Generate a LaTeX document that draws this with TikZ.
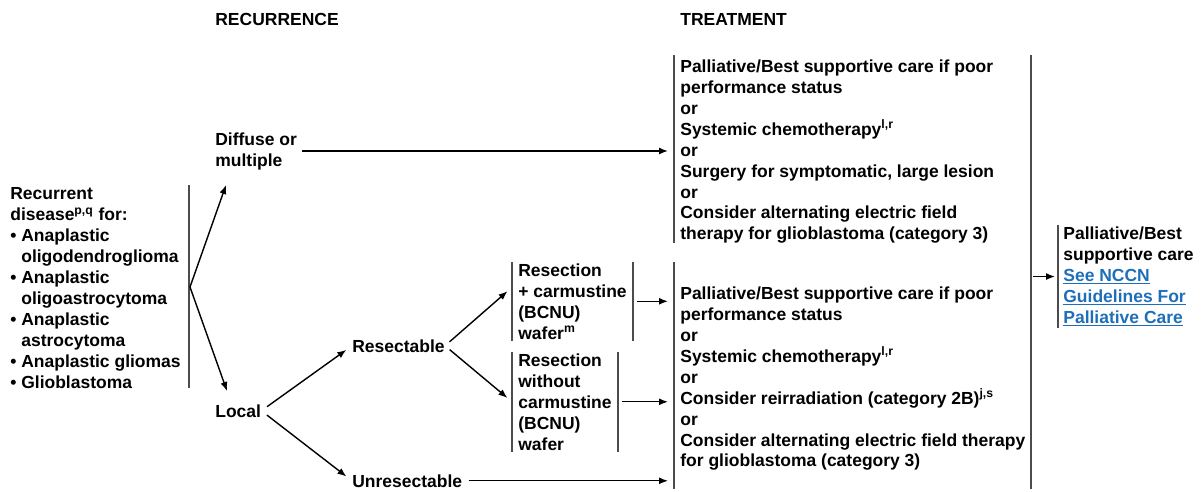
\documentclass[tikz,border=0pt]{standalone}
\usepackage{fontspec}
\setmainfont{Liberation Sans}
\usepackage[table]{xcolor}
\usepackage{tikz}
\usetikzlibrary{arrows.meta}
\definecolor{nccnlink}{RGB}{30,110,185}

\begin{document}
\begin{tikzpicture}[x=0.02cm, y=-0.02cm,
		txt/.style={black, anchor=north west, inner sep=0pt, align=left, font=\bfseries\fontsize{9.95}{11.95}\selectfont},
		boxed/.style={txt, inner xsep=0.12cm, inner ysep=0.02cm},
		bar/.style={draw=black!70, line width=1.2pt},
		arr/.style={draw=black, line width=0.8pt, -{Latex[length=0.18cm, width=0.14cm]}}]
		\useasboundingbox (0,0) rectangle (1202,491);
		\node[txt] (recurrence) at (215,13) {RECURRENCE};
		\node[txt] (treatment) at (680,13) {TREATMENT};
		\node[txt] (disease) at (10,187) {Recurrent\\disease\textsuperscript{p,q} for:\\\textbullet\ Anaplastic\\\hphantom{\textbullet\ }oligodendroglioma\\\textbullet\ Anaplastic\\\hphantom{\textbullet\ }oligoastrocytoma\\\textbullet\ Anaplastic\\\hphantom{\textbullet\ }astrocytoma\\\textbullet\ Anaplastic gliomas\\\textbullet\ Glioblastoma};
		\node[txt] (diffuse) at (215,132) {Diffuse or\\multiple};
		\node[txt] (local) at (215,404) {Local};
		\node[txt] (resectable) at (352,339) {Resectable};
		\node[txt] (unresectable) at (352,474) {Unresectable};
		\node[boxed] (resA) at (512,262) {Resection\\+ carmustine\\(BCNU)\\wafer\textsuperscript{m}};
		\node[boxed] (resB) at (512,352) {Resection\\without\\carmustine\\(BCNU)\\wafer};
		\node[txt] (careA) at (680,59) {Palliative/Best supportive care if poor\\performance status\\or\\Systemic chemotherapy\textsuperscript{l,r}\\or\\Surgery for symptomatic, large lesion\\or\\Consider alternating electric field\\therapy for glioblastoma (category 3)};
		\node[txt] (careB) at (680,286) {Palliative/Best supportive care if poor\\performance status\\or\\Systemic chemotherapy\textsuperscript{l,r}\\or\\Consider reirradiation (category 2B)\textsuperscript{j,s}\\or\\Consider alternating electric field therapy\\for glioblastoma (category 3)};
		\node[boxed, inner xsep=0.1cm] (palliative) at (1058,225) {Palliative/Best\\supportive care\\\textcolor{nccnlink}{\underline{See NCCN}}\\\textcolor{nccnlink}{\underline{Guidelines For}}\\\textcolor{nccnlink}{\underline{Palliative Care}}};
		\coordinate (split) at (190,287);
		\coordinate (leftA) at (674,55);
		\coordinate (leftB) at (674,262);
		\coordinate (right) at (1031,55);
		\draw[bar] (189,185) -- (189,388);
		\draw[bar] (leftA) -- ++(0,188);
		\draw[bar] (leftB) -- ++(0,227);
		\draw[bar] (right) -- ++(0,434);
		\draw[bar] (resA.north west) -- (resA.south west);
		\draw[bar] (resA.north east) -- (resA.south east);
		\draw[bar] (resB.north west) -- (resB.south west);
		\draw[bar] (resB.north east) -- (resB.south east);
		\draw[bar] (palliative.north west) -- (palliative.south west);
		\draw[arr] (split) -- ([shift={(11,15)}]diffuse.south west);
		\draw[arr] (split) -- ([shift={(12,-13)}]local.north west);
		\draw[arr, shorten <=0.1cm, shorten >=0.12cm] (diffuse.east) -- (diffuse.east -| leftA);
		\draw[arr, shorten <=0.14cm, shorten >=0.14cm] (local.east) -- (resectable.west);
		\draw[arr, shorten <=0.14cm, shorten >=0.14cm] (local.east) -- (unresectable.west);
		\draw[arr, shorten <=0.12cm, shorten >=0.12cm] (resectable.east) -- ([shift={(0,-14)}]resA.west);
		\draw[arr, shorten <=0.12cm, shorten >=0.12cm] (resectable.east) -- (resB.west);
		\draw[arr, shorten <=0.08cm, shorten >=0.12cm] (resA.east) -- (resA.east -| leftB);
		\draw[arr, shorten <=0.08cm, shorten >=0.12cm] (resB.east) -- (resB.east -| leftB);
		\draw[arr, shorten <=0.12cm, shorten >=0.12cm] (unresectable.east) -- (unresectable.east -| leftB);
		\draw[arr, shorten <=0.04cm, shorten >=0.06cm] (palliative.west -| right) -- (palliative.west);
	\end{tikzpicture}
\end{document}
